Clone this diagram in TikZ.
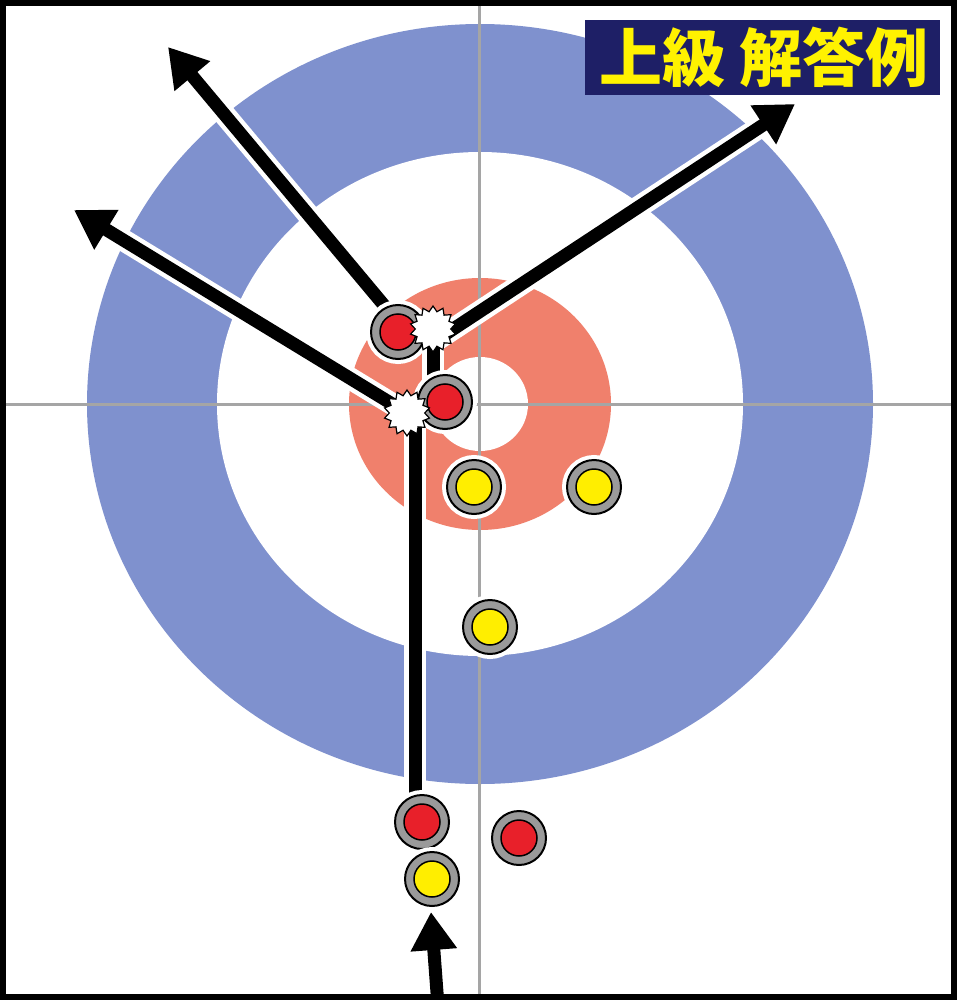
\documentclass[tikz,border=0pt]{standalone}
\usepackage{fontspec}
\usepackage{pdfrender}
\newfontfamily\cjk{Noto Sans CJK JP}
\usetikzlibrary{arrows.meta,shapes.geometric,calc}
\definecolor{ringblue}{HTML}{7F91CE}
\definecolor{salmon}{HTML}{F0806C}
\definecolor{crossgray}{HTML}{A5A5A5}
\definecolor{stonegray}{HTML}{9A9A9A}
\definecolor{stonered}{HTML}{E8202A}
\definecolor{stoneyellow}{HTML}{FFEE00}
\definecolor{navy}{HTML}{1E1F66}
\definecolor{titleyellow}{HTML}{FFF200}
\newcommand\ttlfont{\cjk\bfseries\fontsize{63}{63}\selectfont}
\begin{document}
\begin{tikzpicture}[x=1pt,y=-1pt,
  stone/.style={circle, inner sep=0pt, minimum size=54pt, fill=stonegray, draw=black, line width=2pt,
                preaction={draw=white, line width=10pt}},
  core/.style={circle, inner sep=0pt, minimum size=36pt, draw=black, line width=1.5pt, fill=#1},
  burst/.style={star, star points=14, star point ratio=1.3, minimum size=46pt, inner sep=0pt,
                fill=white, draw=black, line width=1.2pt},
  halo/.style={white, line width=22pt},
  trk/.style={black, line width=13pt},
  arr/.style={trk, -{Triangle[length=38pt,width=44pt]}},
]
\fill[white] (0,0) rectangle (957,1000);
\useasboundingbox (0,0) rectangle (957,1000);
% house
\fill[ringblue] (480,404) ellipse [x radius=393, y radius=380];
\fill[white] (480,404) ellipse [x radius=263, y radius=252];
\fill[salmon] (480,404) ellipse [x radius=131, y radius=126];
\fill[white] (480,404) ellipse [x radius=48, y radius=47];
\draw[crossgray, line width=3pt] (479,0) -- (479,1000) (0,404) -- (957,404);

% positions
\coordinate (r1p) at (398,332);
\coordinate (r2p) at (445,402);
\coordinate (s1p) at (433,329);
\coordinate (s2p) at (407,413);
\coordinate (hit1) at (432,343);
\coordinate (aim1) at (398,322);
\coordinate (r2path) at (433,392);
\coordinate (v0) at (415,815);
\coordinate (v1) at (415,418);
\coordinate (t1) at (168,47);
\coordinate (t2) at (74,210);
\coordinate (t3) at (795,104);
\coordinate (t4) at (431,912);
\coordinate (tail) at (438,1006);

% halos
\draw[halo] (v0) -- (v1);
\draw[halo] (r2path) -- (s1p);
\draw[halo, shorten >=30pt] (s2p) -- (t2);
\draw[halo, shorten >=30pt] (aim1) -- (t1);
\draw[halo, shorten >=30pt] (hit1) -- (t3);
\draw[halo, shorten >=30pt] (tail) -- (t4);
% tracks
\draw[trk] (v0) -- (v1);
\draw[trk] (r2path) -- (s1p);
\draw[arr] (s2p) -- (t2);
\draw[arr] (aim1) -- (t1);
\draw[arr] (hit1) -- (t3);
\draw[arr] (tail) -- (t4);

% stones
\node[stone] (r1) at (r1p) {};
\node[core=stonered] (r1c) at (r1) {};
\node[stone] (r2) at (r2p) {};
\node[core=stonered] (r2c) at (r2) {};
\node[stone] (rb) at (422,822) {};
\node[core=stonered] (rbc) at (rb) {};
\node[stone] (rr) at (519,838) {};
\node[core=stonered] (rrc) at (rr) {};
\node[stone] (yb) at (432,879) {};
\node[core=stoneyellow] (ybc) at (yb) {};
\node[stone] (y1) at (474,487) {};
\node[core=stoneyellow] (y1c) at (y1) {};
\node[stone] (y2) at (594,487) {};
\node[core=stoneyellow] (y2c) at (y2) {};
\node[stone] (y3) at (490,627) {};
\node[core=stoneyellow] (y3c) at (y3) {};

% impacts
\node[burst] (s1) at (s1p) {};
\node[burst] (s2) at (s2p) {};

% title
\node[fill=navy, minimum width=355pt, minimum height=75pt, inner sep=0pt] (title) at (762.5,57.5) {};
\node[text=titleyellow, font=\ttlfont, inner sep=0pt] (titletext) at (764,57.5)
  {\textpdfrender{TextRenderingMode=FillStroke, LineWidth=2.4pt, StrokeColor=black, FillColor=titleyellow, LineJoin=1}{上級 解答例}};

% frame
\draw[black, line width=6pt] (3,3) rectangle (954,997);
\end{tikzpicture}
\end{document}
